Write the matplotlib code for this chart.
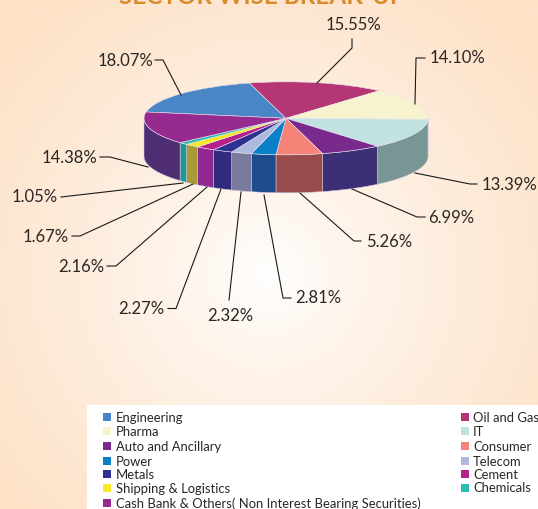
import matplotlib
matplotlib.use('Agg')
import matplotlib.pyplot as plt
from matplotlib.patches import Rectangle
import numpy as np

plt.rcParams['font.family'] = ['Lato', 'DejaVu Sans']

sectors = ['Engineering', 'Oil and Gas', 'Pharma', 'IT', 'Auto and Ancillary', 'Consumer', 'Power',
           'Telecom', 'Metals', 'Cement', 'Shipping & Logistics', 'Chemicals',
           'Cash Bank & Others( Non Interest Bearing Securities)']
values = [18.07, 15.55, 14.10, 13.39, 6.99, 5.26, 2.81, 2.32, 2.27, 2.16, 1.67, 1.05, 14.38]
top_colors = ['#4a86c5', '#b53675', '#f8f3cf', '#c0e2e0', '#7a2a8c', '#f58377', '#0a80c8',
              '#adb9dd', '#2e3192', '#b61f8c', '#f9e827', '#2cbcb4', '#972a8e']
side_colors = ['#3a6690', '#86284f', '#b6b29a', '#789794', '#3d2f75', '#9a4c4c', '#1c4c8c',
               '#7a7a9f', '#322a7c', '#92288f', '#a99a35', '#1f9a90', '#4f2d73']

left_col = ['Engineering', 'Pharma', 'Auto and Ancillary', 'Power', 'Metals', 'Shipping & Logistics',
            'Cash Bank & Others( Non Interest Bearing Securities)']
right_col = ['Oil and Gas', 'IT', 'Consumer', 'Telecom', 'Cement', 'Chemicals']

W, H = 538, 509
cx, cy, rx, ry, depth = 286, 118.3, 142, 36.5, 38
start = 170

fig = plt.figure(figsize=(W/100, H/100), dpi=100)

# background
bg = fig.add_axes([0, 0, 1, 1], zorder=0)
yy, xx = np.mgrid[0:H:200j, 0:W:200j]
d = np.sqrt((xx-268)**2 + (yy-275)**2)
c0 = np.array([255, 255, 255])/255
c1 = np.array([253, 226, 200])/255
t = np.clip(d/340, 0, 1)[..., None]**0.8
bg.imshow(c0*(1-t)+c1*t, extent=(0, W, H, 0), aspect='auto')
bg.axis('off')

# pie
ax = fig.add_axes([0, 0, 1, 1], zorder=1)
ax.patch.set_alpha(0)
ends = start - np.cumsum(values)*360/sum(values)
starts = np.r_[start, ends[:-1]]
for a, b, col in zip(starts, ends, side_colors):
    lo, hi = max(b, -180), min(a, 0)
    if lo >= hi:
        continue
    th = np.radians(np.linspace(lo, hi, 40))
    xs = np.cos(th)
    ys = np.sin(th)
    ax.fill(np.r_[xs, xs[::-1]], np.r_[ys, ys[::-1]-depth/ry], fc=col, ec='#c9c4d8', lw=0.4)
ax.pie(values, colors=top_colors, startangle=start, counterclock=False, radius=1,
       wedgeprops=dict(ec='#e8e4ee', lw=0.4))
ax.set_aspect('auto')
ax.set_xlim(-cx/rx, (W-cx)/rx)
ax.set_ylim((cy-H)/ry, cy/ry)
ax.axis('off')

# overlay in pixels
ov = fig.add_axes([0, 0, 1, 1], zorder=2)
ov.patch.set_alpha(0)
ov.set_xlim(0, W)
ov.set_ylim(H, 0)
ov.axis('off')

ov.text(262, 4, 'SECTOR WISE BREAK-UP', color='#d88a2c', fontsize=17.5, fontweight='bold',
        ha='center', va='baseline')

labels = ['18.07%', '15.55%', '14.10%', '13.39%', '6.99%', '5.26%', '2.81%', '2.32%', '2.27%',
          '2.16%', '1.67%', '1.05%', '14.38%']
label_pos = [(125, 61), (353, 25), (457, 58), (509, 185), (451.5, 218), (389.5, 242), (318, 298),
             (230, 316), (141, 309), (81, 267), (46, 237), (35, 197), (69, 158)]
leaders = [[(155, 60), (163, 60), (181, 95)],
           [(352, 39), (352, 48), (317, 83)],
           [(425, 58), (416, 58), (415, 104)],
           [(415, 173), (470, 184), (477, 184)],
           [(352, 189), (417, 217), (425, 217)],
           [(300, 193), (354, 241), (361, 241)],
           [(264, 195), (283, 298), (291, 298)],
           [(241, 192), (229, 300)],
           [(221, 189), (176, 308.5), (168, 308.5)],
           [(207, 187), (116, 266), (107, 266)],
           [(193, 184), (80, 236), (72, 236)],
           [(183, 183), (61, 197)],
           [(148, 167), (110, 157), (100, 157)]]
for txt, pos, line in zip(labels, label_pos, leaders):
    ov.text(pos[0], pos[1], txt, ha='center', va='center', fontsize=12, color='#2b2624')
    pts = np.array(line)
    ov.plot(pts[:, 0], pts[:, 1], color='#1a1a1a', lw=0.8, solid_joinstyle='miter')

# legend
ov.add_patch(Rectangle((87, 405), W-87, H-405, fc='white', ec='none'))
left_y = [417, 431, 446, 460.5, 474, 488, 503]
right_y = [417, 431, 446, 460.5, 474, 487.5]
for names, ys, sx, tx in [(left_col, left_y, 103, 116), (right_col, right_y, 461, 473)]:
    for name, y in zip(names, ys):
        ov.add_patch(Rectangle((sx, y-4), 8, 8, fc=top_colors[sectors.index(name)], ec='none'))
        ov.text(tx, y+1, name, ha='left', va='center', fontsize=9.4, color='#2b2624')

fig.savefig('out.png', dpi=100)
